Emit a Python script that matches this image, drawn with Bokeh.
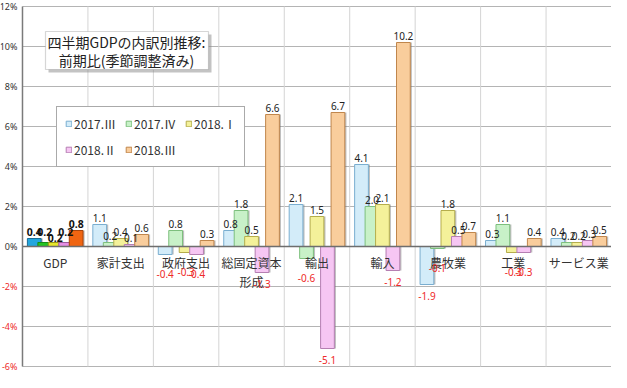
from bokeh.plotting import figure
from bokeh.models import (ColumnDataSource, Range1d, Legend, LegendItem,
                          Label, CDSView, BooleanFilter, BoxAnnotation)
from bokeh.transform import dodge
from bokeh.core.properties import value
from bokeh.embed import file_html
from bokeh.resources import INLINE

# ---- data ----
categories = ["GDP", "家計支出", "政府支出", "総固定資本\n形成", "輸出", "輸入", "農牧業", "工業", "サービス業"]
series = ["2017.Ⅲ", "2017.Ⅳ", "2018.Ⅰ", "2018.Ⅱ", "2018.Ⅲ"]
v_2017_3 = [0.4, 1.1, -0.4, 0.8, 2.1, 4.1, -1.9, 0.3, 0.4]
v_2017_4 = [0.2, 0.2, 0.8, 1.8, -0.6, 2.0, -0.1, 1.1, 0.2]
v_2018_1 = [0.2, 0.4, -0.3, 0.5, 1.5, 2.1, 1.8, -0.3, 0.2]
v_2018_2 = [0.2, 0.1, -0.4, -1.3, -5.1, -1.2, 0.5, -0.3, 0.3]
v_2018_3 = [0.8, 0.6, 0.3, 6.6, 6.7, 10.2, 0.7, 0.4, 0.5]
all_values = [v_2017_3, v_2017_4, v_2018_1, v_2018_2, v_2018_3]
y_ticks = [-6, -4, -2, 0, 2, 4, 6, 8, 10, 12]
y_tick_labels = ["-6%", "-4%", "-2%", "0%", "2%", "4%", "6%", "8%", "10%", "12%"]
title_lines = ["四半期GDPの内訳別推移:", "前期比(季節調整済み)"]

# ---- styles ----
light_fill = ["#d3ecf9", "#c8f1c8", "#f4f19a", "#f6c6f3", "#f9cd9c"]
light_line = ["#7aaed0", "#7dbf7d", "#b5ad4c", "#b57fb2", "#c0864c"]
gdp_fill = ["#22a6de", "#22c422", "#e6e62a", "#e58ee5", "#f06512"]
gdp_line = ["#1a6d96", "#178a17", "#9a9a18", "#9a5a9a", "#a8430a"]
offsets = [-0.32, -0.16, 0.0, 0.16, 0.32]
gdp_label_offsets = [-3, -7, -1, -7, -3]
JP_NAME = "Noto Sans CJK JP"
JP = value(JP_NAME)
RED = "#ee2a2a"

n = len(categories)
y_lo, y_hi = y_ticks[0], y_ticks[-1]
# left part of the x range holds the tick labels (22 px at ~65.4 px per category)
p = figure(width=611, height=372, output_backend="svg", toolbar_location=None,
           x_range=Range1d(-0.336, n), y_range=Range1d(y_lo - 0.3, y_hi + 0.3),
           x_axis_location=None, y_axis_location=None,
           min_border_left=0, min_border_right=0, min_border_top=0, min_border_bottom=0)
p.background_fill_color = "white"
p.border_fill_color = "white"
p.outline_line_color = None
p.xgrid.visible = False
p.ygrid.visible = False

# grid lines (horizontal at ticks, vertical at category boundaries)
p.segment(x0=[0] * len(y_ticks), x1=[n] * len(y_ticks), y0=y_ticks, y1=y_ticks,
          line_color="#b4b4b4", line_width=1)
p.segment(x0=list(range(1, n + 1)), x1=list(range(1, n + 1)), y0=[y_lo] * n, y1=[y_hi] * n,
          line_color="#d4d4d4", line_width=1)

xs = [i + 0.5 for i in range(n)]
sources = []
for j, vals in enumerate(all_values):
    src = ColumnDataSource(dict(
        x=xs, top=vals,
        label=["%.1f" % v for v in vals],
        fill=[gdp_fill[j] if c == "GDP" else light_fill[j] for c in categories],
        line=[gdp_line[j] if c == "GDP" else light_line[j] for c in categories],
        neg_off=[15 if v > -1 else 7 for v in vals],
    ))
    sources.append(src)

# shadows
for j, src in enumerate(sources):
    p.vbar(x=dodge("x", offsets[j] + 0.03, range=p.x_range), top="top", bottom=0, width=0.2,
           source=src, fill_color="#707070", fill_alpha=0.45, line_color=None)

renderers = []
for j, src in enumerate(sources):
    r = p.vbar(x=dodge("x", offsets[j], range=p.x_range), top="top", bottom=0, width=0.21,
               source=src, fill_color="fill", line_color="line", line_width=1)
    renderers.append(r)

# zero line and left axis line
p.segment(x0=[0], x1=[n], y0=[0], y1=[0], line_color="#6e6e6e", line_width=1.5)
p.segment(x0=[0], x1=[0], y0=[y_lo], y1=[y_hi], line_color="#7a7a7a", line_width=1.5)

# y tick labels (negative ones in red)
tick_src = ColumnDataSource(dict(x=[0] * len(y_ticks), y=y_ticks, text=y_tick_labels,
                                 color=[RED if t < 0 else "#333333" for t in y_ticks]))
p.text(x="x", y="y", text="text", source=tick_src, x_offset=-5, text_align="right",
       text_baseline="middle", text_color="color", text_font=value("Noto Sans"),
       text_font_size="9px")

# category labels at the zero line
cat_src = ColumnDataSource(dict(x=xs, y=[0] * n, text=categories))
p.text(x="x", y="y", text="text", source=cat_src, text_align="center", text_baseline="top",
       y_offset=7, text_font=JP, text_font_size="12px", text_color="#333333",
       text_line_height=1.15)

# data labels
for j, (src, vals) in enumerate(zip(sources, all_values)):
    is_gdp = [c == "GDP" for c in categories]
    pos = [(v >= 0 and not g) for v, g in zip(vals, is_gdp)]
    neg = [(v < 0 and not g) for v, g in zip(vals, is_gdp)]
    xd = dodge("x", offsets[j], range=p.x_range)
    p.text(x=xd, y="top", text="label", source=src, view=CDSView(filter=BooleanFilter(pos)),
           text_align="center", text_baseline="bottom", y_offset=-3,
           text_font=value("Noto Sans"), text_font_size="10px", text_color="#222222")
    p.text(x=xd, y="top", text="label", source=src, view=CDSView(filter=BooleanFilter(neg)),
           text_align="center", text_baseline="top", y_offset="neg_off",
           text_font=value("Noto Sans"), text_font_size="10px", text_color=RED)
    p.text(x=xd, y="top", text="label", source=src, view=CDSView(filter=BooleanFilter(is_gdp)),
           text_align="center", text_baseline="bottom", y_offset=gdp_label_offsets[j],
           text_font=value("Noto Sans"), text_font_size="10.5px", text_font_style="bold",
           text_color="#111111")

# title box with shadow
p.add_layout(BoxAnnotation(left=48, right=211, top=338, bottom=300,
                           left_units="screen", right_units="screen",
                           top_units="screen", bottom_units="screen",
                           fill_color="#888888", fill_alpha=0.5, line_color=None))
p.add_layout(BoxAnnotation(left=45, right=208, top=341, bottom=303,
                           left_units="screen", right_units="screen",
                           top_units="screen", bottom_units="screen",
                           fill_color="white", fill_alpha=1, line_color="#777777", line_width=1.2))
for line, yy in zip(title_lines, [331, 313]):
    p.add_layout(Label(x=126, y=yy, x_units="screen", y_units="screen", text=line,
                       text_align="center", text_baseline="middle", text_font=JP_NAME,
                       text_font_size="14px", text_color="#222222"))

legend = Legend(items=[LegendItem(label=s, renderers=[r], index=1) for s, r in zip(series, renderers)],
                orientation="horizontal", ncols=3, location=(56, 205),
                label_text_font=JP_NAME, label_text_font_size="12px", label_text_color="#333333",
                glyph_width=7, glyph_height=7, label_standoff=2, label_height=14,
                spacing=9, padding=8, margin=0,
                border_line_color="#555555", border_line_width=1,
                background_fill_color="white", background_fill_alpha=1)
p.add_layout(legend)

open("out.html", "w").write(file_html(p, INLINE))
